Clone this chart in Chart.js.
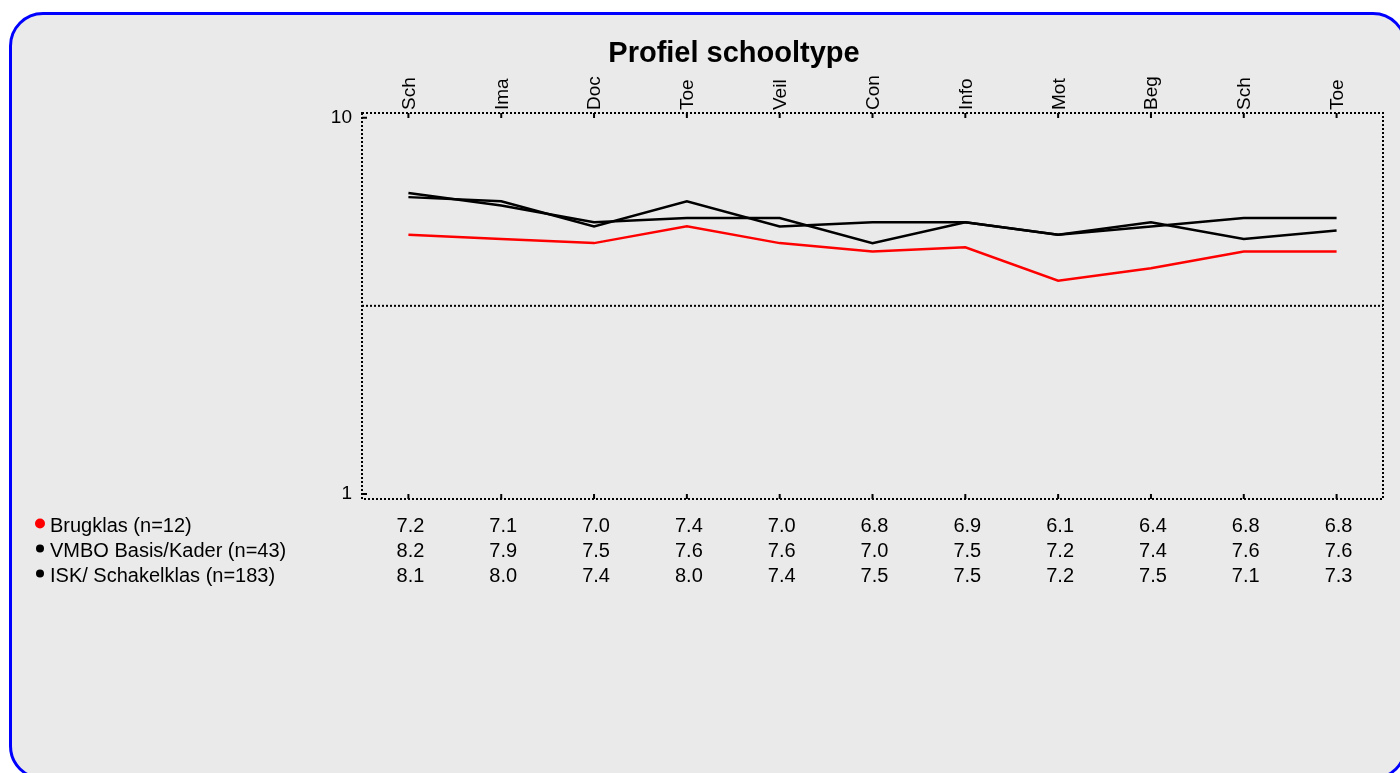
<!DOCTYPE html>
<html><head><meta charset="utf-8">
<script src="https://cdn.jsdelivr.net/npm/chart.js@4"></script>
<style>
html,body{margin:0;padding:0;background:#fff;width:1400px;height:773px;overflow:hidden;}
#frame{position:absolute;left:9px;top:12px;width:1398px;height:768px;box-sizing:border-box;border:3px solid #0000ff;border-radius:34px;background:#eaeaea;}
#wrap{position:absolute;left:0;top:0;width:1400px;height:773px;}
</style></head><body>
<div id="frame"></div>
<div id="wrap"><canvas id="c" width="1400" height="773"></canvas></div>
<script>
const categories = ['Sch','Ima','Doc','Toe','Veil','Con','Info','Mot','Beg','Sch','Toe'];
const seriesNames = ['Brugklas (n=12)','VMBO Basis/Kader (n=43)','ISK/ Schakelklas (n=183)'];
const brugklas = [7.2,7.1,7.0,7.4,7.0,6.8,6.9,6.1,6.4,6.8,6.8];
const vmbo     = [8.2,7.9,7.5,7.6,7.6,7.0,7.5,7.2,7.4,7.6,7.6];
const isk      = [8.1,8.0,7.4,8.0,7.4,7.5,7.5,7.2,7.5,7.1,7.3];
const seriesColors = ['#ff0000','#000000','#000000'];
const yTicks = [1, 10];
const yMid = 5.5;
const chartTitle = 'Profiel schooltype';

const FONT = '"Liberation Sans", Arial, Helvetica, sans-serif';

const decorPlugin = {
  id: 'decor',
  afterDraw(chart) {
    const ctx = chart.ctx;
    const a = chart.chartArea;
    const xs = chart.scales.x, ys = chart.scales.y;
    ctx.save();
    // dotted frame and mid line
    ctx.strokeStyle = '#000';
    ctx.lineWidth = 2;
    ctx.setLineDash([2, 2]);
    ctx.strokeRect(a.left, a.top, a.right - a.left, a.bottom - a.top);
    const ym = ys.getPixelForValue(yMid);
    ctx.beginPath(); ctx.moveTo(a.left, ym); ctx.lineTo(a.right, ym); ctx.stroke();
    ctx.setLineDash([]);
    // inward tick marks
    ctx.beginPath();
    categories.forEach((c, i) => {
      const x = xs.getPixelForValue(i);
      ctx.moveTo(x, a.top); ctx.lineTo(x, a.top + 5);
      ctx.moveTo(x, a.bottom); ctx.lineTo(x, a.bottom - 5);
    });
    yTicks.forEach(v => {
      const y = ys.getPixelForValue(v);
      ctx.moveTo(a.left, y); ctx.lineTo(a.left + 5, y);
    });
    ctx.stroke();
    // title
    ctx.fillStyle = '#000';
    ctx.font = 'bold 29px ' + FONT;
    ctx.textAlign = 'center';
    ctx.textBaseline = 'alphabetic';
    ctx.fillText(chartTitle, 734, 62);
    // legend + value table
    ctx.font = '20px ' + FONT;
    chart.data.datasets.forEach((ds, i) => {
      const base = 532 + 25 * i;
      ctx.fillStyle = ds.borderColor;
      ctx.beginPath();
      ctx.arc(40, base - 8.5, i === 0 ? 5 : 4, 0, Math.PI * 2);
      ctx.fill();
      ctx.fillStyle = '#000';
      ctx.textAlign = 'left';
      ctx.fillText(ds.label, 50, base);
      ctx.textAlign = 'center';
      ds.data.forEach((v, j) => {
        ctx.fillText(v.toFixed(1), xs.getPixelForValue(j) + 2, base);
      });
    });
    ctx.restore();
  }
};

const seriesData = [brugklas, vmbo, isk];
new Chart(document.getElementById('c'), {
  type: 'line',
  data: {
    labels: categories,
    datasets: seriesData.map((d, i) => ({
      label: seriesNames[i],
      data: d,
      borderColor: seriesColors[i],
      backgroundColor: seriesColors[i],
      borderWidth: 2.5,
      pointRadius: 0,
      tension: 0,
      fill: false
    }))
  },
  options: {
    responsive: false,
    animation: false,
    devicePixelRatio: 1,
    layout: { padding: { left: 302, right: 17, top: 0, bottom: 274 } },
    plugins: { legend: { display: false }, title: { display: false }, tooltip: { enabled: false } },
    scales: {
      x: {
        type: 'category', position: 'top', offset: true,
        grid: { display: false, drawTicks: false }, border: { display: false },
        ticks: { autoSkip: false, minRotation: 90, maxRotation: 90, padding: 3, labelOffset: 24, color: '#000', font: { family: FONT, size: 19 } },
        afterFit(s) { s.height = 113; }
      },
      y: {
        type: 'linear', min: 0.88, max: 10.112,
        grid: { display: false, drawTicks: false }, border: { display: false },
        afterBuildTicks(s) { s.ticks = yTicks.map(v => ({ value: v })); },
        ticks: { padding: 10, color: '#000', font: { family: FONT, size: 19 }, callback: v => String(v) },
        afterFit(s) { s.width = 60; }
      }
    }
  },
  plugins: [decorPlugin]
});
</script>
</body></html>
